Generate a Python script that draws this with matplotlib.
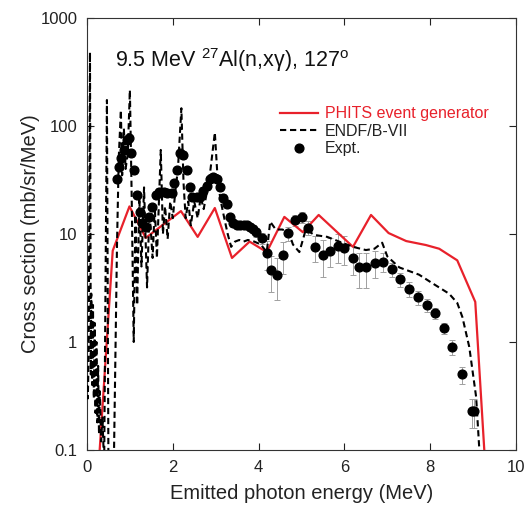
import matplotlib
matplotlib.use("Agg")
import matplotlib.pyplot as plt
import numpy as np

plt.rcParams['font.family'] = ['Liberation Sans', 'DejaVu Sans']
plt.rcParams['mathtext.fontset'] = 'custom'
plt.rcParams['mathtext.rm'] = 'Liberation Sans'
plt.rcParams['mathtext.default'] = 'regular'

# ENDF/B-VII (dashed)
endf_E = [0.00, 0.02, 0.04, 0.07, 0.09, 0.10, 0.12, 0.14, 0.16, 0.18, 0.20, 0.22, 0.24,
          0.26, 0.28, 0.30, 0.33, 0.36, 0.40, 0.465, 0.50, 0.62, 0.70, 0.74, 0.79, 0.82,
          0.86, 0.90, 0.95, 1.00, 1.04, 1.09, 1.13, 1.17, 1.22, 1.27, 1.33, 1.40, 1.45,
          1.48, 1.53, 1.58, 1.63, 1.72, 1.77, 1.82, 1.88, 1.94, 2.00, 2.06, 2.12, 2.20,
          2.25, 2.30, 2.36, 2.42, 2.50, 2.58, 2.65, 2.72, 2.80, 2.88, 2.98, 3.05, 3.12,
          3.20, 3.28, 3.36, 3.45, 3.55, 3.65, 3.75, 3.90, 4.05, 4.19, 4.27, 4.40, 4.55,
          4.70, 4.80, 4.95, 5.10, 5.30, 5.60, 5.88, 6.20, 6.50, 6.70, 6.88, 7.00, 7.28,
          7.74, 8.05, 8.44, 8.63, 8.75, 8.91, 9.07, 9.16]
endf_v = [0.4, 0.3, 0.8, 480, 0.5, 2.8, 0.4, 2.2, 0.3, 1.5, 0.22, 1.0, 0.18,
          0.6, 0.14, 0.35, 0.12, 0.2, 0.07, 174, 0.07, 0.05, 8, 50, 140, 35,
          95, 40, 55, 215, 25, 1.0, 15, 2.2, 22, 5, 27, 3.2, 14,
          12, 6, 18, 6, 60, 10, 18, 9, 20, 14, 25, 40, 146,
          30, 14, 20, 12, 20, 14, 22, 17, 25, 40, 87, 30, 20,
          14, 10, 7.6, 8.5, 8.8, 8.5, 8.8, 8.5, 8.0, 6.8, 13, 11, 11,
          10.5, 8, 6.8, 11, 9.8, 9.4, 8.5, 7.6, 7.1, 7.3, 8.3, 6.2, 4.9,
          4.2, 3.5, 2.8, 2.3, 1.7, 0.9, 0.31, 0.08]

# PHITS event generator (red)
phits_E = [0.28, 0.60, 0.99, 1.37, 2.19, 2.58, 2.98, 3.38, 3.79, 4.19, 4.60, 5.03, 5.40,
           6.20, 6.62, 7.03, 7.44, 7.90, 8.21, 8.63, 9.05, 9.30]
phits_v = [0.08, 7.0, 18, 9.2, 16.3, 9.4, 17.4, 6.0, 8.5, 6.8, 14.4, 10.4, 15,
           7.6, 15, 10.2, 8.6, 7.9, 7.3, 5.7, 2.35, 0.055]

# Experimental data
expt_E = [0.69, 0.75, 0.80, 0.86, 0.93, 0.98, 1.02, 1.09, 1.16, 1.23, 1.28, 1.37, 1.44,
          1.51, 1.60, 1.67, 1.79, 1.86, 1.98, 2.02, 2.09, 2.16, 2.23, 2.32, 2.40, 2.44,
          2.56, 2.63, 2.70, 2.79, 2.86, 2.93, 3.02, 3.09, 3.16, 3.26, 3.33, 3.40, 3.49,
          3.57, 3.65, 3.72, 3.79, 3.87, 3.95, 4.07, 4.19, 4.30, 4.44, 4.58, 4.68, 4.84,
          5.00, 5.14, 5.32, 5.49, 5.67, 5.84, 6.00, 6.19, 6.35, 6.51, 6.71, 6.89, 7.12,
          7.30, 7.51, 7.72, 7.93, 8.12, 8.33, 8.51, 8.74, 8.98, 9.02]
expt_v = [32, 42, 50, 60, 74, 77, 56, 39, 23, 16, 12.6, 11.6, 14.4,
          17.7, 23, 24.5, 24.5, 24, 24, 29.5, 39, 56, 54, 39, 27, 22,
          22, 22, 25, 28, 32, 34, 32, 27, 21.5, 19, 14.3, 12.6, 12,
          12, 12, 12, 11.6, 11.2, 10.4, 9.2, 6.6, 4.6, 4.2, 6.4, 10.2, 13.5,
          14.4, 11.4, 7.6, 6.4, 7.0, 7.7, 7.4, 6.0, 4.9, 4.9, 5.4, 5.5, 4.7,
          3.8, 3.1, 2.6, 2.2, 1.86, 1.35, 0.9, 0.5, 0.23, 0.23]
expt_rel_err = [0.08, 0.08, 0.08, 0.08, 0.08, 0.08, 0.08, 0.08, 0.08, 0.08, 0.08, 0.08, 0.08,
                0.08, 0.08, 0.08, 0.08, 0.08, 0.08, 0.08, 0.08, 0.08, 0.08, 0.08, 0.08, 0.08,
                0.08, 0.08, 0.08, 0.08, 0.08, 0.08, 0.08, 0.08, 0.08, 0.08, 0.08, 0.08, 0.08,
                0.08, 0.08, 0.08, 0.08, 0.08, 0.1, 0.12, 0.3, 0.37, 0.42, 0.33, 0.15, 0.12,
                0.12, 0.15, 0.27, 0.38, 0.3, 0.3, 0.3, 0.3, 0.35, 0.35, 0.28, 0.2, 0.15,
                0.15, 0.15, 0.15, 0.13, 0.12, 0.12, 0.15, 0.18, 0.3, 0.3]

RED = '#e8212b'

fig = plt.figure(figsize=(5.31, 5.08), dpi=100)
ax = fig.add_axes([0.1638, 0.1142, 0.808, 0.8504])

ax.plot(phits_E, phits_v, color=RED, lw=1.6, label='PHITS event generator', zorder=3)
ax.plot(endf_E, endf_v, color='black', lw=1.5, ls=(0, (3, 1.8)), label='ENDF/B-VII', zorder=4)
ev = np.array(expt_v)
err = ev * np.array(expt_rel_err)
ax.errorbar(expt_E, expt_v, yerr=err, fmt='none', ecolor='#a0a0a0', elinewidth=0.7,
            capsize=2, capthick=0.7, zorder=2)
ax.plot(expt_E, expt_v, 'o', color='black', ms=6.3, ls='none', label='Expt.', zorder=5)

ax.set_yscale('log')
ax.set_xlim(0, 10)
ax.set_ylim(0.1, 1000)
ax.set_xticks([0, 2, 4, 6, 8, 10])
ax.set_xticklabels(['0', '2', '4', '6', '8', '10'])
ax.set_yticks([0.1, 1, 10, 100, 1000])
ax.set_yticklabels(['0.1', '1', '10', '100', '1000'])
ax.minorticks_off()
ax.tick_params(direction='in', top=True, right=True, length=5, width=0.8,
               labelsize=12, pad=7, colors='#222222')
for s in ax.spines.values():
    s.set_linewidth(0.8)
    s.set_color('#333333')

ax.set_xlabel('Emitted photon energy (MeV)', fontsize=14.5, labelpad=7, color='#222222')
ax.set_ylabel('Cross section (mb/sr/MeV)', fontsize=14.5, labelpad=0, color='#222222')

ax.text(0.066, 0.935, '9.5 MeV $^{27}$Al(n,xγ), 127$^{o}$', transform=ax.transAxes,
        fontsize=15.5, va='top', ha='left', color='#111111')

leg = ax.legend(loc='upper left', bbox_to_anchor=(0.434, 0.81), frameon=False,
                fontsize=11.5, handlelength=2.4, handletextpad=0.45, labelspacing=0.15,
                numpoints=1, borderaxespad=0)
for t, c in zip(leg.get_texts(), [RED, '#222222', '#222222']):
    t.set_color(c)

fig.savefig('out.png', dpi=100)
